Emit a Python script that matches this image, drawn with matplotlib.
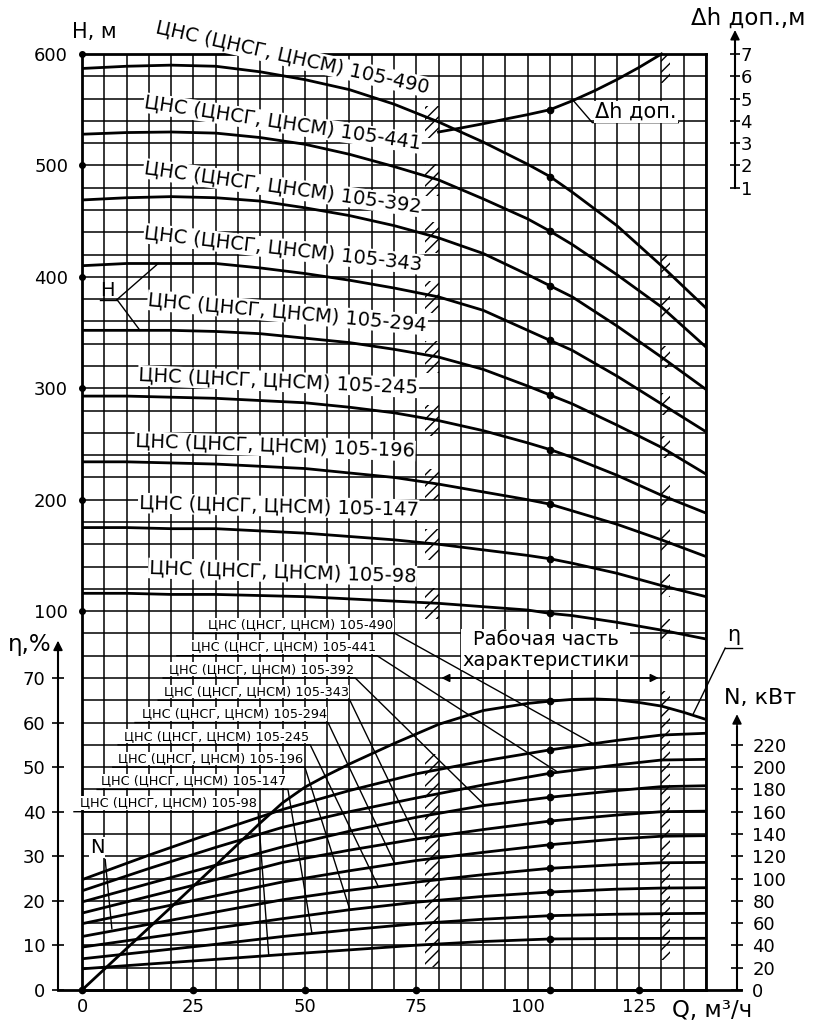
import numpy as np
import matplotlib.pyplot as plt
from matplotlib.transforms import offset_copy

plt.rcParams['font.family'] = ['DejaVu Sans']
plt.rcParams['hatch.linewidth'] = 1.0

# --- data ---
pumps = ['105-490', '105-441', '105-392', '105-343', '105-294',
         '105-245', '105-196', '105-147', '105-98']

q_h = [0, 10, 20, 30, 40, 50, 60, 70, 80, 90, 100, 105, 110, 120, 130, 140]
h_490 = [587, 589, 590, 589, 584, 577, 568, 555, 539, 521, 501, 490, 476, 446, 410, 372]
h_441 = [528, 529.5, 530, 529, 525, 519, 510, 499, 487, 470, 452, 441, 429, 402, 373, 337]
h_392 = [469, 471, 472, 471, 468, 462, 455, 446, 435, 421, 402, 392, 382, 356, 328, 299]
h_343 = [410, 412, 412, 412, 408, 403, 397, 390, 382, 370, 352, 343, 334, 311, 286, 261]
h_294 = [352, 352, 352, 351, 349, 345, 341, 335, 328, 317, 302, 294, 286, 267, 247, 223]
h_245 = [293, 293, 292, 291, 289, 287, 283, 278, 271, 262, 251, 245, 238, 222, 204, 188]
h_196 = [234, 234, 233, 232, 230, 228, 224, 220, 214, 207, 200, 196, 190, 178, 164, 149]
h_147 = [175, 175, 174, 174, 172, 170, 167, 164, 160, 155, 150, 147, 143, 134, 123, 113]
h_98 = [116, 116, 115, 115, 114, 113, 111, 109, 107, 104, 101, 98, 96, 90, 83, 75]

q_n = [0, 15, 30, 45, 60, 75, 90, 105, 120, 130, 140]
n_490 = [99, 121, 142, 162, 179, 194, 205.5, 215.5, 224, 228.8, 230.4]
n_441 = [89, 109, 128, 146, 160, 172.3, 184, 194.5, 202, 206.4, 207]
n_392 = [79, 95.5, 112, 128.5, 142.5, 155, 165.5, 173, 179, 182.5, 183.3]
n_343 = [69, 84, 99, 114.5, 125.5, 135.5, 144, 151.6, 157, 160, 160.5]
n_294 = [59.5, 72, 84.5, 97, 107, 116.2, 123.5, 130.4, 135.5, 138, 138.5]
n_245 = [48, 59, 70, 81, 89.5, 96.8, 103.5, 109.2, 112.5, 114.2, 114.5]
n_196 = [38.5, 47, 55.5, 64, 72, 78.8, 84, 87.9, 90.5, 91.5, 91.8]
n_147 = [28, 34.5, 41, 48, 54, 59.5, 63.5, 66.7, 68, 68.5, 68.8]
n_98 = [19, 23.3, 27.5, 31.8, 36, 40.2, 43.5, 45.8, 46.2, 46.3, 46.4]

q_eta = [0, 10, 20, 30, 40, 45, 50, 55, 60, 70, 80, 90, 100, 105, 110, 115, 120, 125,
         130, 135, 140]
eta = [0, 9.3, 18.6, 28, 37.5, 42, 45.5, 48.2, 50.7, 55.3, 59.6, 62.7, 64.3, 64.8, 65.2,
       65.3, 65.1, 64.5, 63.7, 62.3, 60.7]

q_dh = [80, 85, 90, 95, 100, 105, 110, 115, 120, 125, 130]
dh = [3.5, 3.68, 3.87, 4.08, 4.28, 4.5, 4.9, 5.35, 5.85, 6.4, 7.0]

q_nom = 105
q_ticks = [0, 25, 50, 75, 100, 125]
q_dots = [0, 25, 50, 75, 105, 125]
h_ticks = [100, 200, 300, 400, 500, 600]
eta_ticks = [0, 10, 20, 30, 40, 50, 60, 70]
n_ticks = list(range(0, 221, 20))
dh_ticks = [1, 2, 3, 4, 5, 6, 7]

h_curves = [h_490, h_441, h_392, h_343, h_294, h_245, h_196, h_147, h_98]
n_curves = [n_490, n_441, n_392, n_343, n_294, n_245, n_196, n_147, n_98]

# label layout: (Q, H, rotation) for head curves
h_label_pos = [(47.1, 597, -12.5), (45, 538, -8.5), (45, 480, -8), (45.2, 425, -6.5),
               (46.1, 368, -5.2), (44.1, 306, -2.6), (43.3, 248, -2), (44.1, 194, -1.4),
               (45, 135, -1.8)]
# power labels: underline row (N), underline span (Q), leader target (Q)
n_label_row = [320, 300, 280, 260, 240, 220, 200, 180, 160]
n_label_span = [(25.4, 70.2), (21.3, 66.2), (18.2, 61.3), (17.1, 60.1), (11.9, 55.2),
                (8.1, 51.2), (6.9, 50.0), (3.4, 46.2), (-1.8, 39.5)]
n_label_target = [114.7, 106.8, 90.4, 75.1, 70.2, 66.5, 60.1, 51.6, 41.9]

fig = plt.figure(figsize=(8.15, 10.24), dpi=100)
rect = [82 / 815, 34 / 1024, 624 / 815, 936 / 1024]
white = dict(facecolor='white', edgecolor='none', pad=0.6)
PX = 0.72  # points per pixel at 100 dpi


def hatch_box(axis, q0, q1, lo, hi):
    axis.fill_between([q0, q1], lo, hi, facecolor='none', edgecolor='black',
                      hatch='///', linewidth=0)


# --- head axes with the grid ---
ax = fig.add_axes(rect)
ax.set_xlim(0, 140)
ax.set_ylim(-240, 600)
ax.set_xticks(np.arange(0, 141, 5), minor=True)
ax.set_yticks(np.arange(-240, 601, 20), minor=True)
ax.set_xticks(q_ticks)
ax.set_xticklabels([str(v) for v in q_ticks])
ax.set_yticks(h_ticks)
ax.grid(which='both', color='black', lw=1.1)
ax.tick_params(which='both', length=0)
ax.tick_params(axis='y', pad=10, labelsize=13)
ax.tick_params(axis='x', pad=6, labelsize=13)
for s in ax.spines.values():
    s.set_linewidth(2)
ax.plot(np.zeros(len(h_ticks)), h_ticks, 'ko', ms=4, clip_on=False, zorder=5)

for hc, name, (lq, lh, rot) in zip(h_curves, pumps, h_label_pos):
    ax.plot(q_h, hc, 'k-', lw=2)
    ax.plot([q_nom], [np.interp(q_nom, q_h, hc)], 'ko', ms=4.5)
    ax.text(lq, lh, 'ЦНС (ЦНСГ, ЦНСМ) ' + name, fontsize=14, rotation=rot,
            rotation_mode='anchor', ha='center', va='center', bbox=white, zorder=4,
            clip_on=False)
    h80 = np.interp(80, q_h, hc)
    hatch_box(ax, 77, 80, h80 - 14, h80 + 14)
    h130 = np.interp(130, q_h, hc)
    hatch_box(ax, 130, 132, h130 - 10, h130 + 10)

# "H" marker with leaders
ax.text(5.8, 388, 'H', fontsize=14, ha='center', va='center')
ax.plot([4.0, 7.85], [379.6, 379.6], 'k-', lw=1)
ax.plot([7.85, 17.1], [379.6, np.interp(17.1, q_h, h_343)], 'k-', lw=1)
ax.plot([7.85, 13], [379.6, np.interp(13, q_h, h_294)], 'k-', lw=1)

# --- power axes ---
ax_n = fig.add_axes(rect)
ax_n.patch.set_visible(False)
ax_n.set_xlim(0, 140)
ax_n.set_ylim(0, 840)
for k in ['left', 'top', 'bottom']:
    ax_n.spines[k].set_visible(False)
ax_n.spines['right'].set_position(('outward', 31 * PX))
ax_n.spines['right'].set_bounds(0, 236)
ax_n.spines['right'].set_linewidth(1.5)
ax_n.set_xticks([])
ax_n.yaxis.tick_right()
ax_n.set_yticks(n_ticks)
ax_n.tick_params(axis='y', direction='inout', length=8, width=1.2, pad=7, labelsize=13)
tr_n = offset_copy(ax_n.get_yaxis_transform(), fig=fig, x=31, y=0, units='dots')
ax_n.annotate('', xy=(1, 250), xytext=(1, 232), xycoords=tr_n, textcoords=tr_n,
              arrowprops=dict(arrowstyle='-|>', color='black', lw=1.2, mutation_scale=14))

for nc, name, row, (x0, x1), qt in zip(n_curves, pumps, n_label_row, n_label_span,
                                        n_label_target):
    ax_n.plot(q_n, nc, 'k-', lw=2)
    ax_n.plot([q_nom], [np.interp(q_nom, q_n, nc)], 'ko', ms=4.5)
    ax_n.plot([x0, x1, qt], [row, row, np.interp(qt, q_n, nc)], 'k-', lw=1,
              clip_on=False, zorder=4)
    ax_n.text(x1 - 0.3, row + 2, 'ЦНС (ЦНСГ, ЦНСМ) ' + name, fontsize=9.3,
              ha='right', va='bottom', bbox=dict(facecolor='white', edgecolor='none', pad=0.3),
              clip_on=False)

hatch_box(ax_n, 77, 80, 21, 212)
hatch_box(ax_n, 130, 132, 27, 268)

ax_n.text(3.4, 128, 'N', fontsize=14, ha='center', va='center', bbox=white)
ax_n.plot([5.2, 6.7], [117, 55], 'k-', lw=1)

# --- efficiency axes ---
ax_e = fig.add_axes(rect)
ax_e.patch.set_visible(False)
ax_e.set_xlim(0, 140)
ax_e.set_ylim(0, 210)
for k in ['right', 'top', 'bottom']:
    ax_e.spines[k].set_visible(False)
ax_e.spines['left'].set_position(('outward', 24 * PX))
ax_e.spines['left'].set_bounds(0, 76)
ax_e.spines['left'].set_linewidth(1.5)
ax_e.set_xticks([])
ax_e.set_yticks(eta_ticks)
ax_e.tick_params(axis='y', direction='inout', length=8, width=1.2, pad=5, labelsize=13)
tr_e = offset_copy(ax_e.get_yaxis_transform(), fig=fig, x=-24, y=0, units='dots')
ax_e.annotate('', xy=(0, 79), xytext=(0, 72), xycoords=tr_e, textcoords=tr_e,
              arrowprops=dict(arrowstyle='-|>', color='black', lw=1.2, mutation_scale=14))
ax_e.plot([-24 / 624, 659 / 624], [0, 0], 'k-', lw=2, transform=ax_e.transAxes, clip_on=False)
ax_e.plot(q_dots, np.zeros(len(q_dots)), 'ko', ms=4.5, clip_on=False, zorder=5)

ax_e.plot(q_eta, eta, 'k-', lw=2)
ax_e.plot([q_nom], [np.interp(q_nom, q_eta, eta)], 'ko', ms=4.5)
ax_e.text(146.1, 77.5, 'η', fontsize=15, ha='center', va='bottom', clip_on=False)
ax_e.plot([144.3, 148.1], [76.7, 76.7], 'k-', lw=1, clip_on=False)
ax_e.plot([144.3, 137], [76.7, np.interp(137, q_eta, eta)], 'k-', lw=1, clip_on=False)

ax_e.annotate('', xy=(80, 70), xytext=(130, 70),
              arrowprops=dict(arrowstyle='<|-|>', color='black', lw=1.1, mutation_scale=12))
ax_e.text(104, 76.3, 'Рабочая часть\nхарактеристики', fontsize=14, ha='center',
          va='center', linespacing=1.1, bbox=white)

# --- NPSH axes ---
ax_d = fig.add_axes(rect)
ax_d.patch.set_visible(False)
ax_d.set_xlim(0, 140)
ax_d.set_ylim(-35, 7)
for k in ['left', 'top', 'bottom']:
    ax_d.spines[k].set_visible(False)
ax_d.spines['right'].set_position(('outward', 29 * PX))
ax_d.spines['right'].set_bounds(1, 7.6)
ax_d.spines['right'].set_linewidth(1.5)
ax_d.set_xticks([])
ax_d.yaxis.tick_right()
ax_d.set_yticks(dh_ticks)
ax_d.tick_params(axis='y', direction='inout', length=7, width=1.2, pad=0.5, labelsize=13)
tr_d = offset_copy(ax_d.get_yaxis_transform(), fig=fig, x=29, y=0, units='dots')
ax_d.annotate('', xy=(1, 8.2), xytext=(1, 7.4), xycoords=tr_d, textcoords=tr_d,
              arrowprops=dict(arrowstyle='-|>', color='black', lw=1.2, mutation_scale=14))

ax_d.plot(q_dh, dh, 'k-', lw=2, clip_on=False)
ax_d.plot([q_nom], [np.interp(q_nom, q_dh, dh)], 'ko', ms=4.5)
hatch_box(ax_d, 130, 132, 5.7, 7)
ax_d.text(124.3, 4.4, 'Δh доп.', fontsize=15, ha='center', va='center', bbox=white)
ax_d.plot([110.2, 114.5, 133.8], [np.interp(110.2, q_dh, dh), 3.92, 3.92], 'k-', lw=1)

# axis titles
fig.text(94 / 815, 1 - 32 / 1024, 'H, м', fontsize=15, ha='center', va='center')
fig.text(748 / 815, 1 - 18 / 1024, 'Δh доп.,м', fontsize=16.5, ha='center', va='center')
fig.text(30 / 815, 1 - 645 / 1024, 'η,%', fontsize=16.5, ha='center', va='center')
fig.text(760 / 815, 1 - 698 / 1024, 'N, кВт', fontsize=16, ha='center', va='center')
fig.text(712 / 815, 1 - 1011 / 1024, 'Q, м³/ч', fontsize=16.5, ha='center', va='center')

fig.savefig('out.png', dpi=100)
